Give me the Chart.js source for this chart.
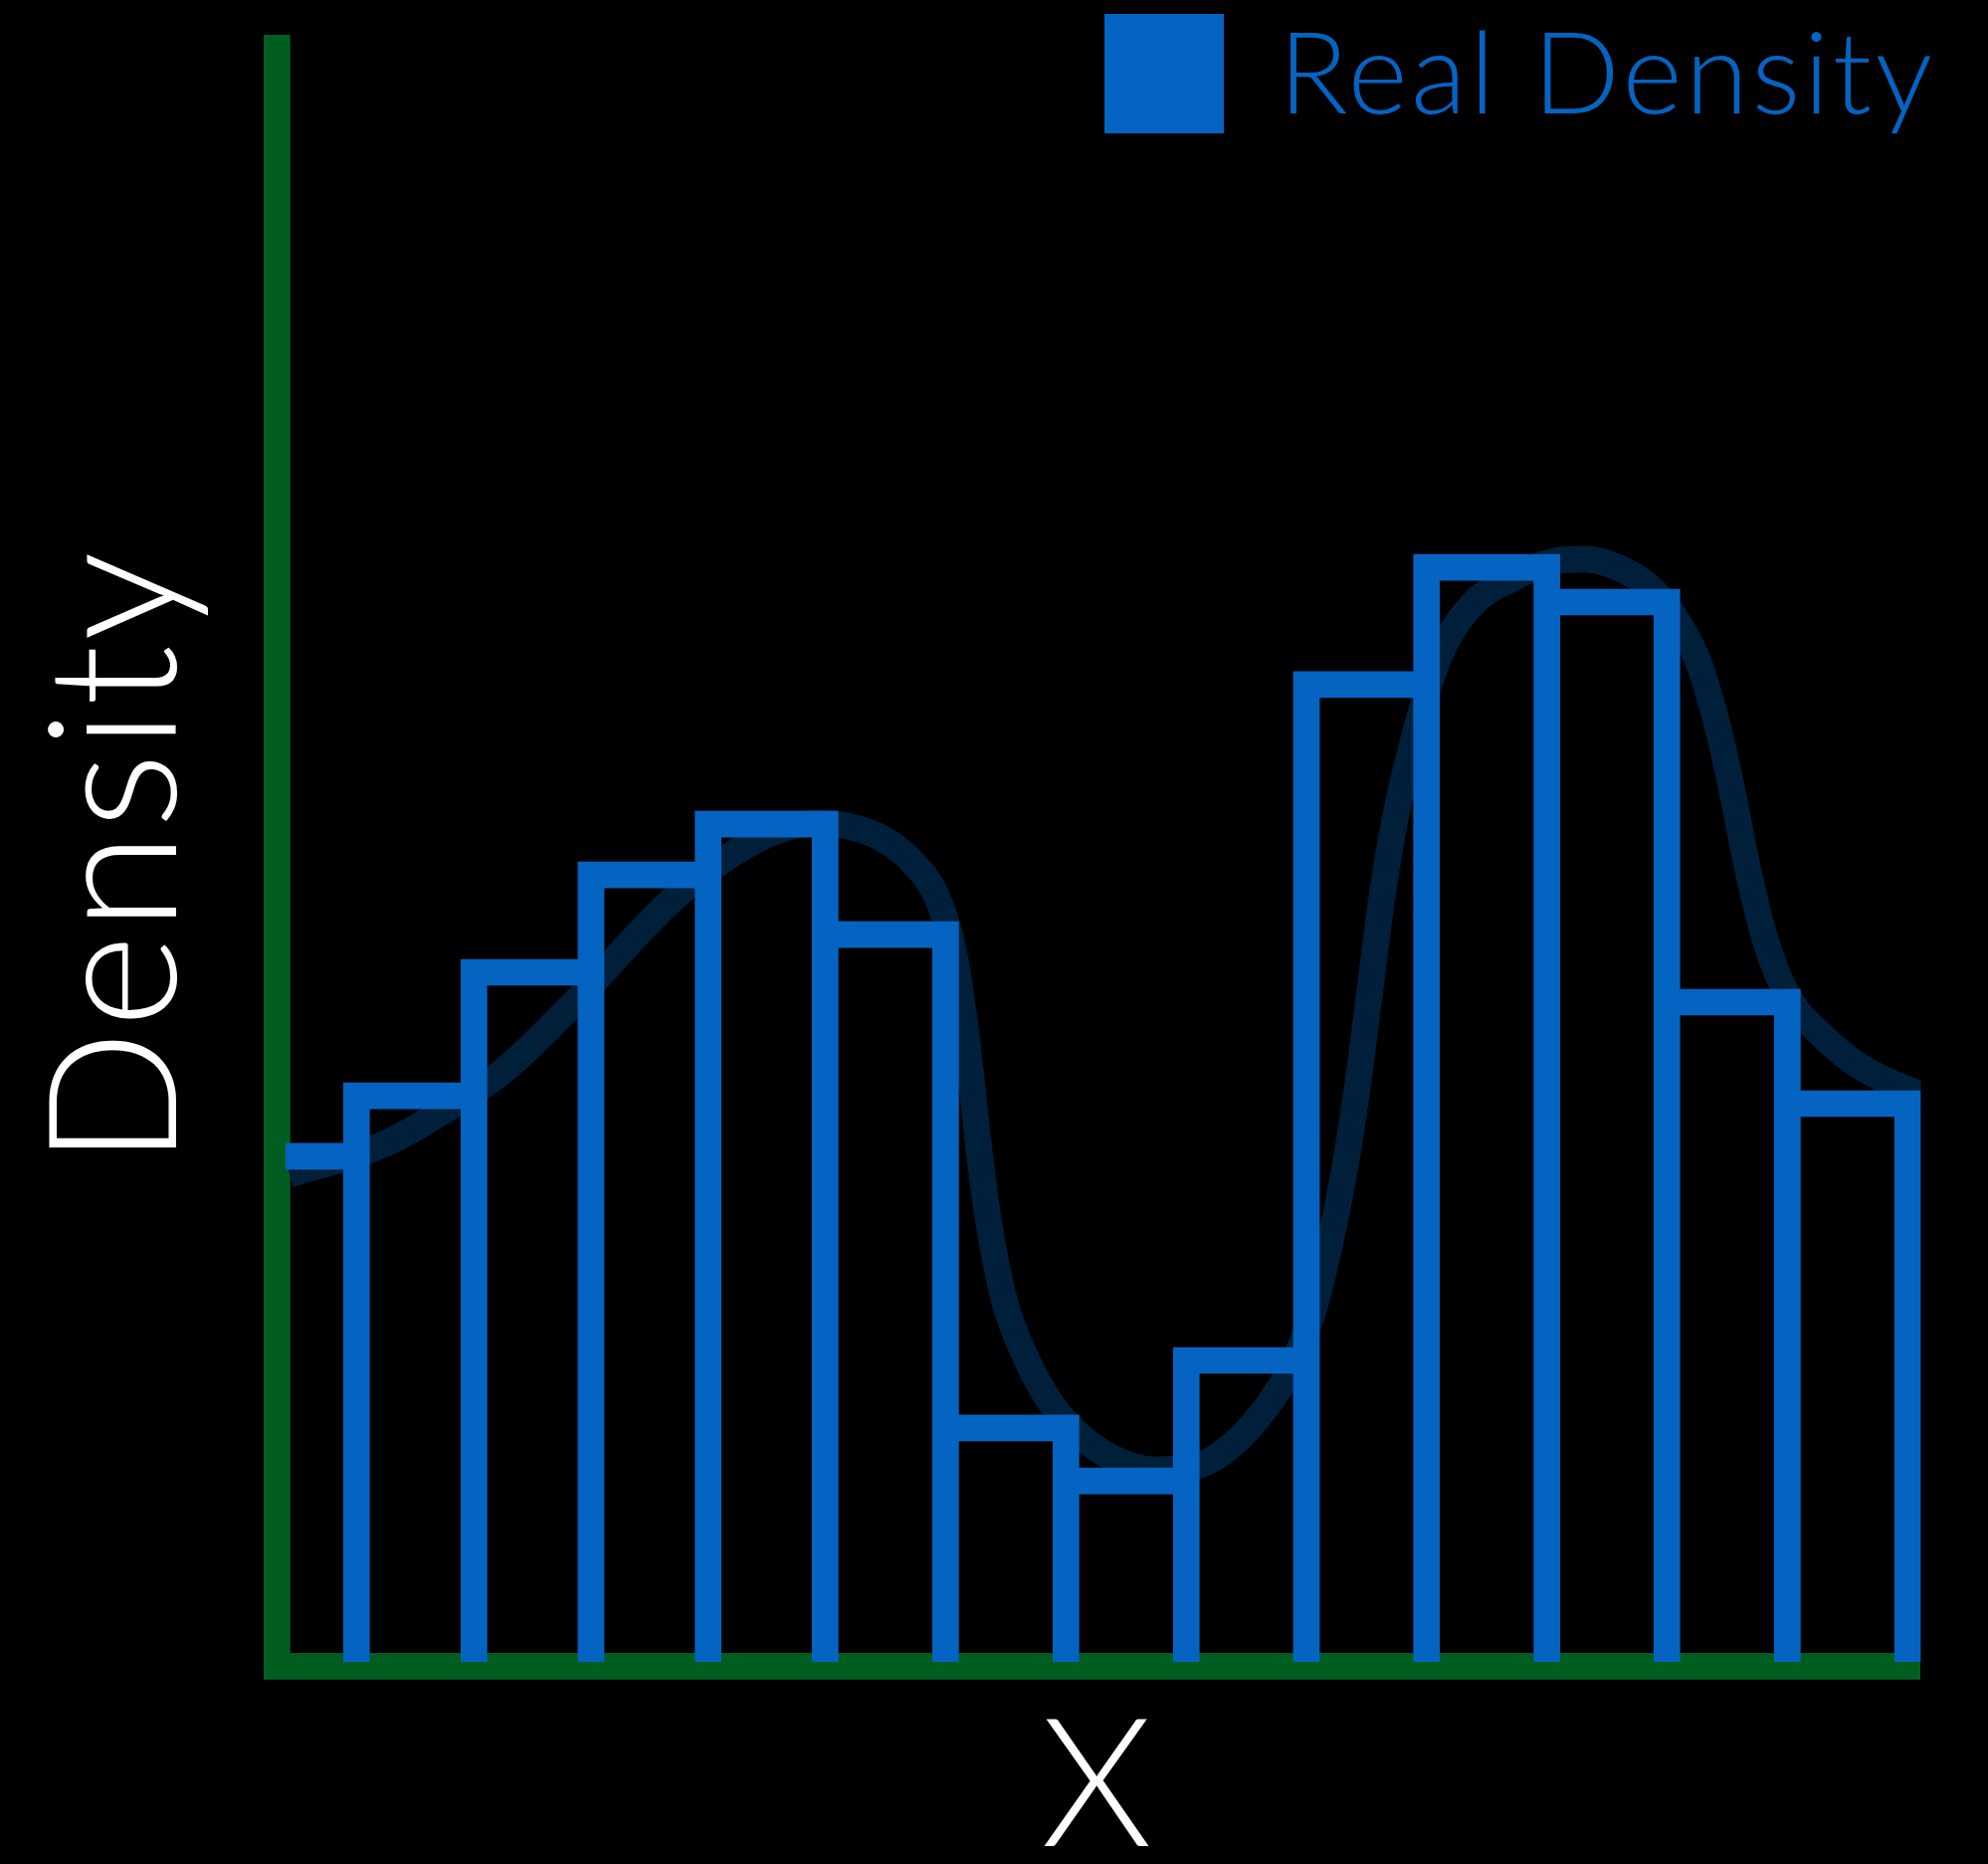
<!DOCTYPE html>
<html>
<head>
<meta charset="utf-8">
<title>Real Density</title>
<script src="https://cdn.jsdelivr.net/npm/chart.js@4.4.1/dist/chart.umd.min.js"></script>
<style>
  html, body { margin: 0; padding: 0; background: #000; }
  canvas { display: block; }
</style>
</head>
<body>
<canvas id="densityChart" width="1998" height="1873"></canvas>
<script>
// histogram bin edges (the first bin is cut off by the y axis)
const binEdges = [-0.31, 0.669, 1.653, 2.633, 3.614, 4.594, 5.603, 6.611, 7.619, 8.625, 9.631, 10.639, 11.644, 12.653, 13.661];
// histogram height of each bin
const binDensity = [0.0847, 0.0948, 0.1155, 0.1318, 0.1403, 0.1218, 0.0392, 0.0303, 0.0505, 0.1637, 0.1833, 0.1775, 0.1105, 0.0935];

// smooth density curve behind the bars
const kdeX = [0.108, 0.338, 0.667, 0.975, 1.294, 1.655, 1.931, 2.249, 2.632, 2.993, 3.311, 3.608, 3.948, 4.267, 4.533, 4.798, 5.063, 5.328, 5.541, 5.668, 5.753, 5.817, 5.881, 5.966, 6.093, 6.263, 6.497, 6.762, 7.028, 7.346, 7.664, 7.983, 8.302, 8.514, 8.673, 8.812, 8.939, 9.045, 9.151, 9.257, 9.363, 9.523, 9.735, 10.001, 10.373, 10.691, 10.957, 11.222, 11.488, 11.699, 11.891, 12.039, 12.178, 12.316, 12.464, 12.655, 12.921, 13.239, 13.505, 13.760];
const kdeY = [0.0817, 0.0830, 0.0849, 0.0874, 0.0910, 0.0955, 0.0995, 0.1055, 0.1133, 0.1212, 0.1276, 0.1324, 0.1369, 0.1397, 0.1405, 0.1399, 0.1380, 0.1339, 0.1276, 0.1191, 0.1084, 0.0978, 0.0861, 0.0734, 0.0607, 0.0515, 0.0430, 0.0373, 0.0339, 0.0322, 0.0326, 0.0360, 0.0430, 0.0500, 0.0583, 0.0692, 0.0819, 0.0953, 0.1116, 0.1280, 0.1407, 0.1545, 0.1683, 0.1768, 0.1817, 0.1843, 0.1847, 0.1834, 0.1802, 0.1753, 0.1683, 0.1590, 0.1471, 0.1333, 0.1212, 0.1116, 0.1053, 0.1000, 0.0972, 0.0951];

const blue = '#0563C1';
const green = '#025E20';
const navy = '#001F3A';

Chart.defaults.font.family = 'Lato';
Chart.defaults.font.weight = '300';

// outline of each bar: up, across, down
const histPoints = [];
for (let i = 0; i < binDensity.length; i++) {
  histPoints.push({x: binEdges[i], y: 0});
  histPoints.push({x: binEdges[i], y: binDensity[i]});
  histPoints.push({x: binEdges[i + 1], y: binDensity[i]});
  histPoints.push({x: binEdges[i + 1], y: 0});
}
const kdePoints = kdeX.map((x, i) => ({x: x, y: kdeY[i]}));

// a bit wider lettering for the axis titles
const wideLetters = {
  id: 'wideLetters',
  beforeDraw(chart) {
    chart.ctx.letterSpacing = '3.5px';
  },
  afterDraw(chart) {
    chart.ctx.letterSpacing = '0px';
  }
};

// legend sits inside the plot, top right
const insideLegend = {
  id: 'insideLegend',
  afterDraw(chart) {
    const ctx = chart.ctx;
    const ds = chart.data.datasets[0];
    ctx.save();
    ctx.fillStyle = ds.borderColor;
    ctx.fillRect(1110, 14, 120, 120);
    ctx.font = '300 115px Lato';
    ctx.letterSpacing = '3.4px';
    ctx.textBaseline = 'alphabetic';
    ctx.textAlign = 'left';
    ctx.fillText(ds.label, 1285, 114);
    ctx.restore();
  }
};

const densityChart = new Chart(document.getElementById('densityChart'), {
  type: 'line',
  data: {
    datasets: [
      {
        label: 'Real Density',
        data: histPoints,
        borderColor: blue,
        borderWidth: 26.7,
        pointRadius: 0,
        tension: 0,
        fill: false,
        borderJoinStyle: 'miter',
        borderCapStyle: 'butt',
        clip: {left: -9, top: false, right: 1, bottom: false},
      },
      {
        label: 'KDE',
        data: kdePoints,
        borderColor: navy,
        borderWidth: 26.7,
        pointRadius: 0,
        cubicInterpolationMode: 'monotone',
        fill: false,
        borderCapStyle: 'butt',
        clip: {left: -9, top: false, right: 1, bottom: false},
      },
    ],
  },
  options: {
    responsive: false,
    animation: false,
    devicePixelRatio: 1,
    layout: {
      padding: {left: 0, top: 48.3, right: 68.5, bottom: 0},
    },
    plugins: {
      legend: {display: false},
      tooltip: {enabled: false},
    },
    scales: {
      x: {
        type: 'linear',
        min: 0,
        max: 13.7625,
        grid: {display: false, drawTicks: false},
        ticks: {display: false},
        border: {display: true, color: green, width: 26.7},
        title: {
          display: true,
          text: 'X',
          color: '#ffffff',
          font: {size: 180, weight: '300', lineHeight: '152px'},
          padding: {top: 47, bottom: 0},
        },
      },
      y: {
        type: 'linear',
        min: -0.000667,
        max: 0.27028,
        grid: {display: false, drawTicks: false},
        ticks: {display: false},
        border: {display: true, color: green, width: 26.7},
        title: {
          display: true,
          text: 'Density',
          color: '#ffffff',
          font: {size: 180, weight: '300', lineHeight: '152px'},
          padding: {top: 43, bottom: 83},
        },
      },
    },
  },
  plugins: [wideLetters, insideLegend],
});
</script>
</body>
</html>
